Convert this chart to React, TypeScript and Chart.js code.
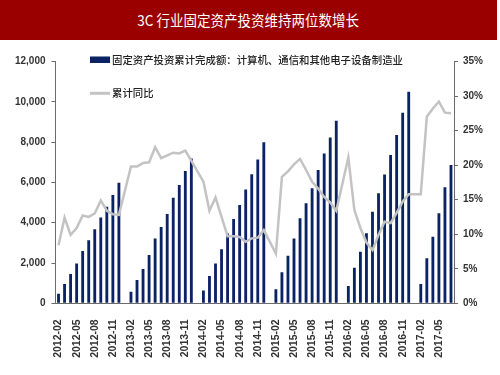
import React, { useEffect, useRef } from "react";
import { Chart, registerables } from "chart.js";

Chart.register(...registerables);

const categories: string[] = [
  "2012-02", "2012-03", "2012-04", "2012-05", "2012-06", "2012-07", "2012-08", "2012-09", "2012-10", "2012-11", "2012-12",
  "2013-01", "2013-02", "2013-03", "2013-04", "2013-05", "2013-06", "2013-07", "2013-08", "2013-09", "2013-10", "2013-11", "2013-12",
  "2014-01", "2014-02", "2014-03", "2014-04", "2014-05", "2014-06", "2014-07", "2014-08", "2014-09", "2014-10", "2014-11", "2014-12",
  "2015-01", "2015-02", "2015-03", "2015-04", "2015-05", "2015-06", "2015-07", "2015-08", "2015-09", "2015-10", "2015-11", "2015-12",
  "2016-01", "2016-02", "2016-03", "2016-04", "2016-05", "2016-06", "2016-07", "2016-08", "2016-09", "2016-10", "2016-11", "2016-12",
  "2017-01", "2017-02", "2017-03", "2017-04", "2017-05", "2017-06", "2017-07",
];

// 固定资产投资累计完成额（亿元）
const investment: (number | null)[] = [
  480, 960, 1450, 1980, 2600, 3130, 3680, 4260, 4790, 5380, 5980,
  null, 577, 1157, 1703, 2397, 3210, 3790, 4430, 5240, 5870, 6563, 7190,
  null, 630, 1350, 1970, 2680, 3470, 4180, 4880, 5650, 6410, 7140, 7990,
  null, 694, 1538, 2361, 3210, 4216, 4960, 5704, 6612, 7440, 8234, 9057,
  null, 858, 1766, 2559, 3472, 4543, 5456, 6398, 7356, 8348, 9454, 10495,
  null, 957, 2232, 3303, 4464, 5754, 6860,
];

// 累计同比（%）
const growth: (number | null)[] = [
  8.4, 12.4, 9.9, 10.9, 12.7, 12.5, 13.0, 14.9, 13.4, 12.9, 12.8,
  null, 19.8, 19.8, 20.3, 20.4, 22.6, 21.0, 21.4, 21.8, 21.7, 22.1, 20.6,
  null, 17.6, 13.4, 15.3, 12.5, 9.7, 9.7, 9.6, 8.9, 9.4, 9.5, 10.6,
  null, 7.2, 18.3, 19.1, 20.1, 20.9, 19.3, 17.6, 16.6, 15.4, 14.6, 13.4,
  null, 21.1, 13.5, 10.9, 8.8, 7.7, 9.9, 11.8, 11.6, 13.1, 14.7, 15.8,
  null, 15.8, 27.0, 28.2, 29.2, 27.6, 27.5,
];

const titleText = "3C 行业固定资产投资维持两位数增长";
const barLabel = "固定资产投资累计完成额：计算机、通信和其他电子设备制造业";
const lineLabel = "累计同比";

const NAVY = "#0b2265";
const GRAY = "#c3c3c3";
const AXIS = "#6b6b6b";
const TEXT = "#333333";
const NUM_FONT = "'Liberation Sans Narrow', 'Liberation Sans', Arial, sans-serif";
const CJK_FONT = "'Noto Sans CJK SC', sans-serif";

const legendPlugin = {
  id: "customLegend",
  afterDraw(chart: any) {
    const ctx = chart.ctx as CanvasRenderingContext2D;
    ctx.save();
    ctx.fillStyle = NAVY;
    ctx.fillRect(90, 16.5, 20, 6.5);
    ctx.strokeStyle = GRAY;
    ctx.lineWidth = 3;
    ctx.beginPath();
    ctx.moveTo(90, 53.3);
    ctx.lineTo(110, 53.3);
    ctx.stroke();
    ctx.fillStyle = "#222";
    ctx.font = `500 10.4px ${CJK_FONT}`;
    ctx.textBaseline = "middle";
    ctx.textAlign = "left";
    ctx.fillText(barLabel, 112, 20);
    ctx.fillText(lineLabel, 112, 53);
    ctx.restore();
  },
};

export default function App() {
  const ref = useRef<HTMLCanvasElement>(null);

  useEffect(() => {
    if (!ref.current) return;
    const chart = new Chart(ref.current, {
      type: "bar",
      data: {
        labels: categories,
        datasets: [
          {
            type: "line",
            label: lineLabel,
            data: growth,
            yAxisID: "y1",
            borderColor: GRAY,
            borderWidth: 2.5,
            pointRadius: 0,
            spanGaps: true,
            tension: 0,
            order: 0,
          } as any,
          {
            type: "bar",
            label: barLabel,
            data: investment,
            yAxisID: "y",
            backgroundColor: NAVY,
            barPercentage: 0.47,
            categoryPercentage: 1,
            order: 1,
          } as any,
        ],
      },
      options: {
        animation: false,
        responsive: false,
        maintainAspectRatio: false,
        layout: { padding: { top: 21.5, left: 0, right: 0, bottom: 0 } },
        plugins: { legend: { display: false }, tooltip: { enabled: false }, title: { display: false } },
        scales: {
          x: {
            type: "category",
            offset: true,
            grid: { display: false },
            border: { display: true, color: AXIS, width: 1 },
            ticks: {
              autoSkip: false,
              minRotation: 90,
              maxRotation: 90,
              padding: 8,
              color: TEXT,
              font: { family: "'Liberation Sans', Arial, sans-serif", size: 10.5, weight: "bold" },
              callback: (_v: any, i: number) => (i % 3 === 0 ? categories[i] : ""),
            },
            afterFit: (s: any) => {
              s.height = 71.7;
            },
          },
          y: {
            position: "left",
            min: 0,
            max: 12000,
            grid: { drawOnChartArea: false, drawTicks: true, tickLength: 4, color: AXIS },
            border: { display: true, color: AXIS, width: 1 },
            ticks: {
              stepSize: 2000,
              padding: 6,
              color: TEXT,
              font: { family: NUM_FONT, size: 10, weight: "bold" },
              callback: (v: any) => Number(v).toLocaleString("en-US"),
            },
            afterFit: (s: any) => {
              s.width = 55.5;
            },
          },
          y1: {
            position: "right",
            min: 0,
            max: 35,
            grid: { drawOnChartArea: false, drawTicks: true, tickLength: 4, color: AXIS },
            border: { display: true, color: AXIS, width: 1 },
            ticks: {
              stepSize: 5,
              padding: 5,
              color: TEXT,
              font: { family: NUM_FONT, size: 10, weight: "bold" },
              callback: (v: any) => `${v}%`,
            },
            afterFit: (s: any) => {
              s.width = 46;
            },
          },
        },
      } as any,
      plugins: [legendPlugin],
    });
    return () => chart.destroy();
  }, []);

  return (
    <div style={{ position: "fixed", left: 0, top: 0, width: 500, height: 375, background: "#fff" }}>
      <div
        style={{
          position: "absolute",
          left: 0,
          top: 0,
          width: 497,
          height: 40,
          background: "#9a0000",
          color: "#fff",
          textAlign: "center",
          lineHeight: "40px",
          fontFamily: CJK_FONT,
          fontSize: 15,
          overflow: "hidden",
        }}
      >
        <span style={{ display: "inline-block", transform: "scaleX(0.9)" }}>{titleText}</span>
      </div>
      <canvas
        ref={ref}
        width={500}
        height={335}
        style={{ position: "absolute", left: 0, top: 40, width: 500, height: 335 }}
      />
    </div>
  );
}
